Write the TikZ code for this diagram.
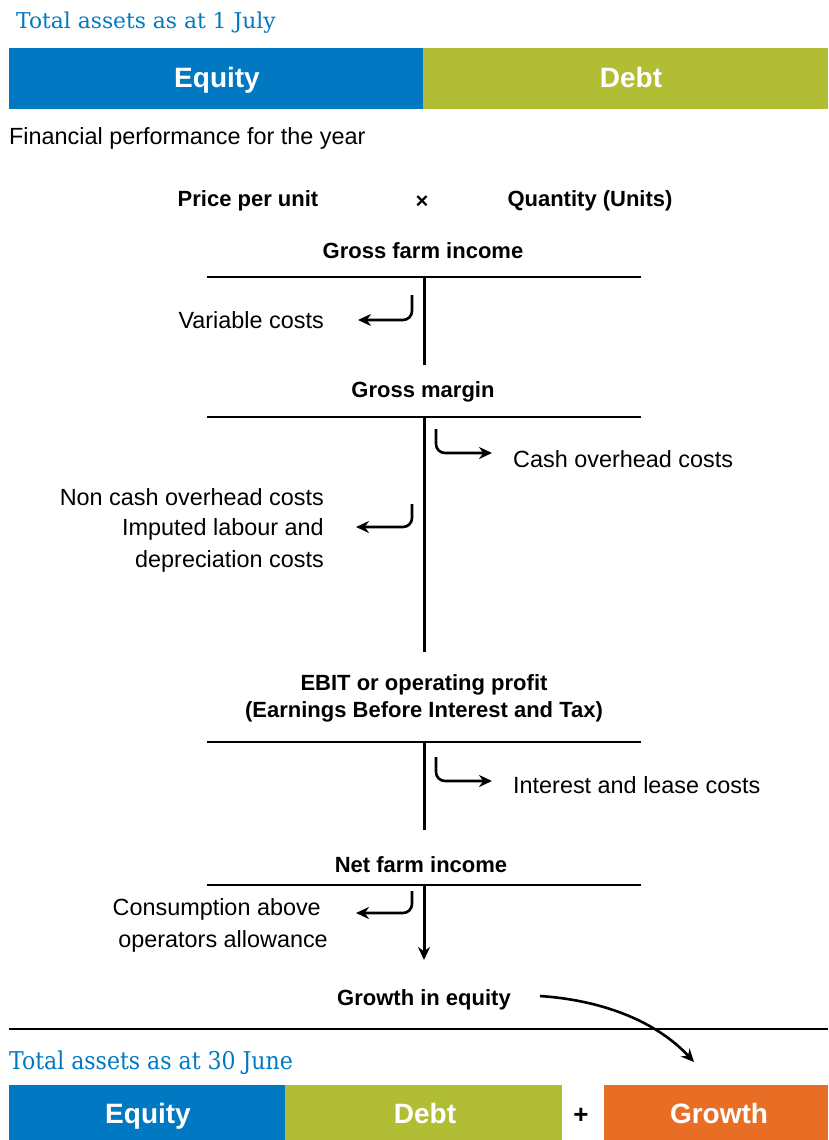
\documentclass[tikz,border=0pt]{standalone}
\usepackage{fontspec}
\setmainfont{Liberation Sans}
\newfontfamily\titlefont{DejaVu Serif}
\newfontfamily\titlefontc{DejaVu Serif Condensed}
\usetikzlibrary{arrows.meta}
\definecolor{cblue}{HTML}{0079C2}
\definecolor{cgreen}{HTML}{B1BE35}
\definecolor{corange}{HTML}{E96E25}
\tikzset{
  lbl/.style={font=\fontsize{23.4}{28}\selectfont, inner sep=0pt},
  blbl/.style={font=\fontsize{22}{27}\selectfont\bfseries, inner sep=0pt},
  bartext/.style={font=\fontsize{28}{32}\selectfont\bfseries, text=white, inner sep=0pt, anchor=base},
  ttl/.style={font=\titlefont\fontsize{21.8}{26}\selectfont, text=cblue, inner sep=0pt, anchor=west},
  hline/.style={line width=1.6pt},
  flow/.style={line width=3pt},
  bentarrow/.style={line width=2.6pt, rounded corners=9pt, -{Stealth[length=13pt,width=12pt]}},
  headarrow/.style={-{Stealth[length=13pt,width=12pt]}},
}
\begin{document}
\begin{tikzpicture}[x=1pt,y=-1pt]
\useasboundingbox (0,0) rectangle (828,1140);
% top bars
\node[ttl] (t1) at (16,23) {Total assets as at 1 July};
\fill[cblue] (9,48) rectangle (423,109);
\fill[cgreen] (423,48) rectangle (828,109);
\node[bartext] (eq1) at (217,88) {Equity};
\node[bartext] (db1) at (631,88) {Debt};
\node[lbl, anchor=west] (fp) at (9,138) {Financial performance for the year};
\node[blbl] (ppu) at (248,201) {Price per unit};
\node[blbl] (x) at (422,202) {×};
\node[blbl] (qty) at (590,201) {Quantity (Units)};
% gross farm income
\node[blbl] (gfi) at (423,251) {Gross farm income};
\draw[hline] (207,277) coordinate (l1a) -- (641,277) coordinate (l1b);
\coordinate (v1a) at (424,277); \coordinate (v1b) at (424,365);
\draw[flow] (v1a) -- (v1b);
\coordinate (a1s) at (412,295); \coordinate (a1c) at (412,320); \coordinate (a1e) at (358,320);
\draw[bentarrow] (a1s) -- (a1c) -- (a1e);
\node[lbl, anchor=east] (vc) at (324,320) {Variable costs};
% gross margin
\node[blbl] (gm) at (423,392) {Gross margin};
\draw[hline] (207,417) coordinate (l2a) -- (641,417) coordinate (l2b);
\coordinate (v2a) at (424,417); \coordinate (v2b) at (424,652);
\draw[flow] (v2a) -- (v2b);
\coordinate (a2s) at (436,429); \coordinate (a2c) at (436,453); \coordinate (a2e) at (492,453);
\draw[bentarrow] (a2s) -- (a2c) -- (a2e);
\node[lbl, anchor=west] (coh) at (513,459) {Cash overhead costs};
\coordinate (a3s) at (412,504); \coordinate (a3c) at (412,527); \coordinate (a3e) at (356,527);
\draw[bentarrow] (a3s) -- (a3c) -- (a3e);
\node[lbl, anchor=east] (nc1) at (324,497) {Non cash overhead costs};
\node[lbl, anchor=east] (nc2) at (324,529) {Imputed labour and};
\node[lbl, anchor=east] (nc3) at (324,561) {depreciation costs};
% EBIT
\node[blbl] (ebit1) at (424,685) {EBIT or operating profit};
\node[blbl] (ebit2) at (424,712) {(Earnings Before Interest and Tax)};
\draw[hline] (207,742) coordinate (l3a) -- (641,742) coordinate (l3b);
\coordinate (v3a) at (424,742); \coordinate (v3b) at (424,830);
\draw[flow] (v3a) -- (v3b);
\coordinate (a4s) at (436,757); \coordinate (a4c) at (436,781); \coordinate (a4e) at (492,781);
\draw[bentarrow] (a4s) -- (a4c) -- (a4e);
\node[lbl, anchor=west] (ilc) at (513,785) {Interest and lease costs};
% net farm income
\node[blbl] (nfi) at (421,865) {Net farm income};
\draw[hline] (207,885) coordinate (l4a) -- (641,885) coordinate (l4b);
\coordinate (v4a) at (424,885); \coordinate (v4b) at (424,960);
\draw[flow, headarrow] (v4a) -- (v4b);
\coordinate (a5s) at (412,891); \coordinate (a5c) at (412,913); \coordinate (a5e) at (356,913);
\draw[bentarrow] (a5s) -- (a5c) -- (a5e);
\node[lbl, anchor=east] (ca1) at (321,909) {Consumption above};
\node[lbl, anchor=east] (ca2) at (328,941) {operators allowance};
% growth in equity
\node[blbl] (gie) at (424,1000) {Growth in equity};
\coordinate (g1) at (540,996); \coordinate (g2) at (694,1062);
\draw[flow, line width=2.6pt, headarrow] (g1) .. controls (600,1000) and (655,1020) .. (g2);
\draw[hline] (9,1029) coordinate (l5a) -- (828,1029) coordinate (l5b);
% bottom bars
\node[ttl, font=\titlefontc\fontsize{24.5}{28}\selectfont] (t2) at (9,1063) {Total assets as at 30 June};
\fill[cblue] (9,1085) rectangle (285,1140);
\fill[cgreen] (285,1085) rectangle (562,1140);
\fill[corange] (604,1085) rectangle (828,1140);
\node[bartext] (eq2) at (148,1123) {Equity};
\node[bartext] (db2) at (425,1123) {Debt};
\node[blbl, font=\fontsize{26}{30}\selectfont\bfseries, anchor=base] (plus) at (581,1123) {+};
\node[bartext] (gr2) at (719,1123) {Growth};
\end{tikzpicture}
\end{document}
